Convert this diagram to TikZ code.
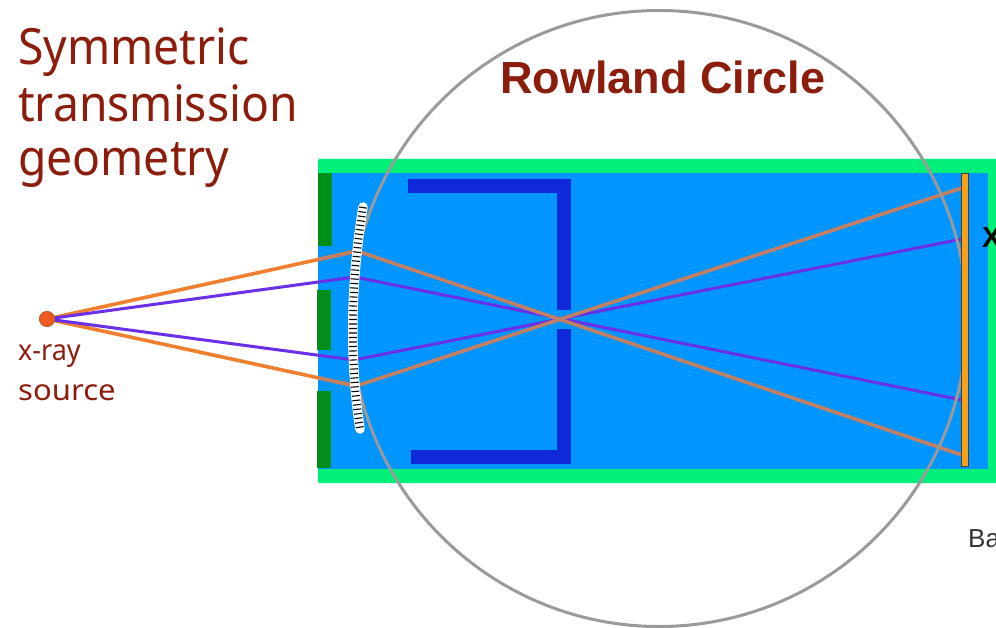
\documentclass[tikz,border=0pt]{standalone}
\usepackage{fontspec}
\setmainfont{Noto Sans}
\newfontfamily\arialf{Liberation Sans}
\definecolor{brick}{HTML}{8C1D0C}
\definecolor{frame}{HTML}{00F07A}
\definecolor{inner}{HTML}{0095FF}
\definecolor{bars}{HTML}{008F18}
\definecolor{bracket}{HTML}{0F28D8}
\definecolor{beamO}{HTML}{F08030}
\definecolor{beamB}{HTML}{C27F62}
\definecolor{beamP}{HTML}{6A2FE8}
\definecolor{ringc}{HTML}{9A9A9A}
\definecolor{detc}{HTML}{F9A01B}
\definecolor{srcc}{HTML}{F05A1E}
\tikzset{
  title/.style={anchor=base west,inner sep=0pt,text=brick,xscale=.925,transform shape,font=\fontsize{50}{50}\selectfont},
  small/.style={anchor=base west,inner sep=0pt,text=brick,transform shape,font=\fontsize{29}{29}\selectfont},
  orangebeam/.style={draw=beamO,line width=3.6pt},
  brownbeam/.style={draw=beamB,line width=3.6pt},
  purplebeam/.style={draw=beamP,line width=3pt},
  barbox/.style={fill=bars,draw=none},
  brk/.style={fill=bracket,draw=none},
  srcdot/.style={circle,fill=srcc,draw=beamO!70!black,line width=0.6pt,minimum size=15pt,inner sep=0pt}
}
\begin{document}
\begin{tikzpicture}[x=1pt,y=-1pt]
\useasboundingbox (0,0) rectangle (996,628);
\clip (0,0) rectangle (996,628);
% housing
\fill[frame,rounded corners=1pt] (318,159) rectangle (1000,483);
\fill[inner] (318,173) rectangle (988,469);
\fill[barbox] (318,173) rectangle (332,246);
\fill[barbox] (317,290) rectangle (331,350);
\fill[barbox] (317,391) rectangle (331,468);
% slit bracket
\fill[brk] (408,179) rectangle (571,193);
\fill[brk] (557,179) rectangle (571,310);
\fill[brk] (557,329) rectangle (571,457);
\fill[brk] (411,450) rectangle (571,464);
% named points
\node[srcdot] (src) at (47,319) {};
\coordinate (o1) at (357,251);
\coordinate (o2) at (356,386);
\coordinate (p1) at (355,277);
\coordinate (p2) at (354,360);
\coordinate (do1) at (962,455);
\coordinate (do2) at (962,188);
\coordinate (dp1) at (962,400);
\coordinate (dp2) at (962,239);
% beams
\draw[orangebeam] (src.center) -- (o1);
\draw[orangebeam] (src.center) -- (o2);
\draw[purplebeam] (src.center) -- (p1) -- (dp1);
\draw[purplebeam] (src.center) -- (p2) -- (dp2);
\begin{scope}
\clip (318,173) rectangle (988,469);
\draw[brownbeam] (src.center) -- (o1) -- (do1);
\draw[brownbeam] (src.center) -- (o2) -- (do2);
\end{scope}
\node[srcdot] at (47,319) {};
% Rowland circle
\node[circle,draw=ringc,line width=3pt,minimum size=616pt,inner sep=0pt] (ring) at (659,318.5) {};
% crystal
\draw[white,line width=9.5pt,line cap=round] (363,207) .. controls (351,282) and (349,356) .. (360,429);
\draw[black,line width=8pt,dash pattern=on 1.1pt off 3.4pt] (363,207) .. controls (351,282) and (349,356) .. (360,429);
% detector
\node[draw=black!75,fill=detc,line width=1pt,minimum width=7pt,minimum height=292pt,inner sep=0pt] (det) at (965,320) {};
% texts
\node[title] (t1) at (18,65) {Symmetric};
\node[title] (t2) at (18,122) {transmission};
\node[title] (t3) at (18,176) {geometry};
\node[small,xscale=.93] (s1) at (18,360) {x-ray};
\node[small,xscale=1.07] (s2) at (18,400) {source};
\node[anchor=base west,inner sep=0pt,text=brick,font=\arialf\bfseries\fontsize{45}{45}\selectfont] (rc) at (500,94) {Rowland Circle};
\node[anchor=base west,inner sep=0pt,text=black,font=\arialf\bfseries\fontsize{29}{29}\selectfont] (xl) at (982,248) {X};
\node[anchor=base west,inner sep=0pt,text=black!80,font=\arialf\fontsize{26}{26}\selectfont] (ba) at (968,547) {Ba};
\end{tikzpicture}
\end{document}
